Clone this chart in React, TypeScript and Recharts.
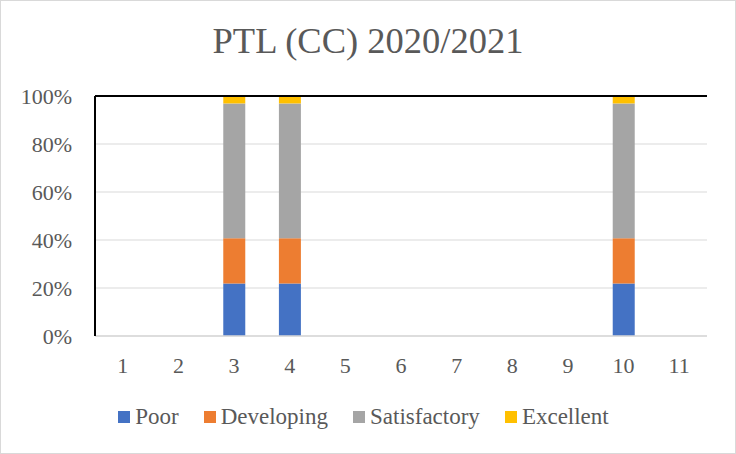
import { BarChart, Bar, XAxis, YAxis, CartesianGrid, Legend, ReferenceLine } from 'recharts'

const categories = ['1', '2', '3', '4', '5', '6', '7', '8', '9', '10', '11']
const poor =         [0, 0, 21.9, 21.9, 0, 0, 0, 0, 0, 21.9, 0]
const developing =   [0, 0, 18.8, 18.8, 0, 0, 0, 0, 0, 18.8, 0]
const satisfactory = [0, 0, 56.2, 56.2, 0, 0, 0, 0, 0, 56.2, 0]
const excellent =    [0, 0, 3.1, 3.1, 0, 0, 0, 0, 0, 3.1, 0]
const yTicks = [0, 20, 40, 60, 80, 100]

const SERIES = [
  { key: 'Poor', color: '#4472C4' },
  { key: 'Developing', color: '#ED7D31' },
  { key: 'Satisfactory', color: '#A5A5A5' },
  { key: 'Excellent', color: '#FFC000' },
]

const FONT = '"Liberation Serif", "Times New Roman", serif'
const TEXT = '#595959'

const data = categories.map((c, i) => ({
  name: c,
  Poor: poor[i],
  Developing: developing[i],
  Satisfactory: satisfactory[i],
  Excellent: excellent[i],
}))

function LegendContent() {
  return (
    <div style={{ height: 60, position: 'relative', top: -7, paddingLeft: 20, boxSizing: 'border-box', display: 'flex', justifyContent: 'center', fontFamily: FONT, fontSize: 23, color: TEXT, lineHeight: '20px' }}>
      {SERIES.map((s) => (
        <div key={s.key} style={{ display: 'flex', alignItems: 'center', margin: '0 12.5px' }}>
          <span style={{ width: 12, height: 12, background: s.color, marginRight: 5, display: 'inline-block' }} />
          <span>{s.key}</span>
        </div>
      ))}
    </div>
  )
}

export default function App() {
  return (
    <div style={{ position: 'fixed', left: 0, top: 0, width: 736, height: 454, background: '#fff' }}>
      <div style={{ position: 'absolute', left: 0, top: 0, width: 736, height: 454, textAlign: 'center', fontFamily: FONT, fontSize: 36.5, color: TEXT, lineHeight: '36px', paddingTop: 23, boxSizing: 'border-box' }}>
        PTL (CC) 2020/2021
      </div>
      <BarChart
        width={736}
        height={454}
        data={data}
        margin={{ top: 96, right: 29, bottom: 0, left: 0 }}
      >
        <CartesianGrid horizontal vertical={false} stroke="#d9d9d9" />
        <XAxis
          dataKey="name"
          height={58}
          tickLine={false}
          tickSize={0}
          tickMargin={21}
          axisLine={{ stroke: '#d9d9d9', strokeWidth: 1.5 }}
          tick={{ fill: TEXT, fontSize: 22, fontFamily: FONT }}
        />
        <YAxis
          width={95}
          domain={[0, 100]}
          ticks={yTicks}
          tickFormatter={(v: number) => `${v}%`}
          tickLine={false}
          tickSize={0}
          tickMargin={23}
          axisLine={{ stroke: '#000', strokeWidth: 2 }}
          tick={{ fill: TEXT, fontSize: 22, fontFamily: FONT }}
        />
        <YAxis
          yAxisId="r"
          orientation="right"
          width={0}
          domain={[0, 100]}
          tick={false}
          tickLine={false}
          axisLine={{ stroke: '#000', strokeWidth: 2 }}
        />
        <Legend verticalAlign="bottom" content={<LegendContent />} />
        {SERIES.map((s) => (
          <Bar key={s.key} dataKey={s.key} stackId="a" fill={s.color} barSize={22} isAnimationActive={false} />
        ))}
        <ReferenceLine y={100} stroke="#000" strokeWidth={2} />
      </BarChart>
      <div style={{ position: 'absolute', left: 0, top: 0, width: 736, height: 454, border: '1px solid #d9d9d9', boxSizing: 'border-box', pointerEvents: 'none' }} />
    </div>
  )
}
